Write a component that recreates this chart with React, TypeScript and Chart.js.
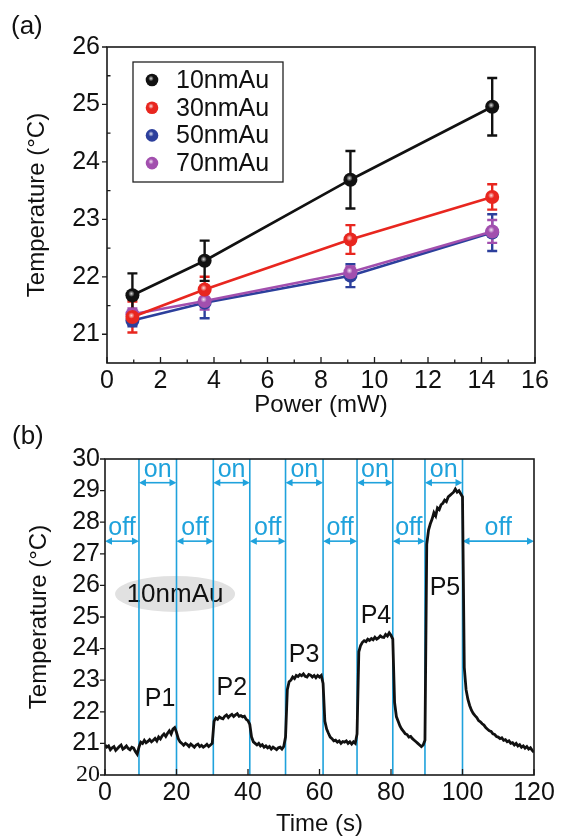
import React, { useEffect, useRef } from "react";
import { Chart, registerables } from "chart.js";

Chart.register(...registerables);

const FONT = "'Liberation Sans', Arial, Helvetica, sans-serif";
const SERIF = "'Liberation Serif', 'Times New Roman', serif";

// ---------------- Panel (a) data ----------------
const powerMW = [0.95, 3.65, 9.1, 14.4];
const seriesLabels = ["10nmAu", "30nmAu", "50nmAu", "70nmAu"];
const temp10 = [21.68, 22.28, 23.69, 24.96];
const temp30 = [21.3, 21.78, 22.65, 23.39];
const temp50 = [21.24, 21.55, 22.02, 22.77];
const temp70 = [21.35, 21.58, 22.08, 22.79];
const err10 = [0.38, 0.35, 0.5, 0.5];
const err30 = [0.27, 0.22, 0.25, 0.22];
const err50 = [0.1, 0.27, 0.2, 0.32];
const err70 = [0.1, 0.15, 0.1, 0.2];
const seriesColors = ["#111111", "#e8261f", "#2c3f9c", "#a24fae"];
const xTicksA = [0, 2, 4, 6, 8, 10, 12, 14, 16];
const xMinorA = [1, 3, 5, 7, 9, 11, 13, 15];
const yTicksA = [21, 22, 23, 24, 25, 26];
const yMinorA = [21.5, 22.5, 23.5, 24.5, 25.5];

// ---------------- Panel (b) data ----------------
const SAMPLE_STEP_S = 0.5;
const traceTemp = [
  20.95, 20.88, 20.92, 20.8, 20.86, 20.9, 20.78, 20.84, 20.9, 20.95,
  20.82, 20.86, 20.92, 20.84, 20.8, 20.88, 20.85, 20.74, 20.66, 20.88,
  21.04, 21.0, 21.1, 21.02, 21.06, 21.12, 21.05, 21.1, 21.16, 21.08,
  21.2, 21.14, 21.24, 21.3, 21.22, 21.32, 21.4, 21.3, 21.45, 21.5,
  21.35, 21.15, 21.05, 21.0, 20.94, 21.0, 20.96, 20.9, 20.98, 20.93,
  20.88, 20.95, 20.98, 20.9, 20.94, 20.88, 20.92, 20.97, 20.9, 20.95,
  21.0, 21.7, 21.8, 21.76, 21.84, 21.8, 21.78, 21.86, 21.9, 21.82,
  21.88, 21.92, 21.85, 21.9, 21.94, 21.86, 21.88, 21.84, 21.86, 21.76,
  21.72, 21.6, 21.2, 21.05, 21.0, 20.95, 21.0, 20.92, 20.96, 20.88,
  20.92, 20.86, 20.9, 20.82, 20.88, 20.84, 20.8, 20.86, 20.88, 20.82,
  20.9, 21.2, 22.7, 22.95, 23.0, 23.1, 23.05, 23.15, 23.12, 23.18,
  23.14, 23.2, 23.12, 23.1, 23.18, 23.16, 23.1, 23.15, 23.08, 23.15,
  23.1, 23.15, 22.9, 21.7, 21.45, 21.32, 21.2, 21.15, 21.08, 21.1,
  21.04, 21.08, 21.0, 21.06, 21.04, 21.08, 21.0, 21.05, 20.98, 21.05,
  21.0, 21.3, 23.9, 24.1, 24.2, 24.25, 24.22, 24.3, 24.26, 24.32,
  24.28, 24.36, 24.3, 24.34, 24.4, 24.36, 24.35, 24.45, 24.4, 24.5,
  24.42, 24.3, 22.3, 21.85, 21.7, 21.55, 21.45, 21.38, 21.3, 21.28,
  21.2, 21.22, 21.15, 21.1, 21.05, 21.0, 20.95, 20.9, 20.95, 21.1,
  27.3, 27.75, 27.95, 28.1, 28.3, 28.2, 28.45, 28.4, 28.55, 28.6,
  28.7, 28.65, 28.8, 28.85, 28.9, 28.95, 29.05, 28.95, 29.0, 28.9,
  28.8, 23.4, 22.7, 22.4, 22.2, 22.05, 21.95, 21.88, 21.82, 21.72,
  21.68, 21.62, 21.58, 21.5, 21.45, 21.4, 21.38, 21.3, 21.28, 21.22,
  21.2, 21.15, 21.18, 21.1, 21.12, 21.05, 21.08, 21.0, 21.02, 20.95,
  21.0, 20.92, 20.96, 20.88, 20.92, 20.85, 20.9, 20.82, 20.86, 20.78,
  20.72,
];
const switchTimes = [9.5, 20, 30.3, 40.5, 50.5, 61, 70.5, 80.5, 89.5, 100];
const onPeriods = [
  [9.5, 20],
  [30.3, 40.5],
  [50.5, 61],
  [70.5, 80.5],
  [89.5, 100],
];
const offPeriods = [
  [0, 9.5],
  [20, 30.3],
  [40.5, 50.5],
  [61, 70.5],
  [80.5, 89.5],
  [100, 120],
];
const ON_ARROW_TEMP = 29.25;
const OFF_ARROW_TEMP = 27.4;
const peakLabels = ["P1", "P2", "P3", "P4", "P5"];
const peakLabelTimes = [15.4, 35.5, 55.7, 75.8, 95.1];
const peakLabelTemps = [22.4, 22.75, 23.8, 25.03, 25.9];
const sampleLabel = "10nmAu";
const SAMPLE_LABEL_TIME = 19.6;
const SAMPLE_LABEL_TEMP = 25.73;
const xTicksB = [0, 20, 40, 60, 80, 100, 120];
const yTicksB = [20, 21, 22, 23, 24, 25, 26, 27, 28, 29, 30];

const BLUE = "#1fa2dc";

function frameTicksPlugin(opts: {
  xMajor: number[];
  xMinor: number[];
  yMajor: number[];
  yMinor: number[];
}) {
  return {
    id: "frameTicks",
    afterDraw(chart: any) {
      const { ctx, chartArea: a, scales } = chart;
      const x = scales.x;
      const y = scales.y;
      ctx.save();
      ctx.strokeStyle = "#1a1a1a";
      ctx.lineWidth = 1.6;
      ctx.strokeRect(a.left, a.top, a.right - a.left, a.bottom - a.top);
      ctx.lineWidth = 1.3;
      ctx.beginPath();
      opts.xMajor.forEach((v) => {
        const px = x.getPixelForValue(v);
        ctx.moveTo(px, a.bottom);
        ctx.lineTo(px, a.bottom - 6);
      });
      opts.xMinor.forEach((v) => {
        const px = x.getPixelForValue(v);
        ctx.moveTo(px, a.bottom);
        ctx.lineTo(px, a.bottom - 3.5);
      });
      opts.yMajor.forEach((v) => {
        const py = y.getPixelForValue(v);
        ctx.moveTo(a.left, py);
        ctx.lineTo(a.left - 5, py);
      });
      opts.yMinor.forEach((v) => {
        const py = y.getPixelForValue(v);
        ctx.moveTo(a.left, py);
        ctx.lineTo(a.left + 3.5, py);
      });
      ctx.stroke();
      ctx.restore();
    },
  };
}

function panelLabelPlugin(text: string, px: number, py: number) {
  return {
    id: "panelLabel",
    afterDraw(chart: any) {
      const { ctx } = chart;
      ctx.save();
      ctx.fillStyle = "#111";
      ctx.font = `26px ${FONT}`;
      ctx.textAlign = "left";
      ctx.textBaseline = "middle";
      ctx.fillText(text, px, py);
      ctx.restore();
    },
  };
}

function drawHighlight(ctx: any, x: number, y: number, r: number) {
  const g = ctx.createRadialGradient(x - 1, y - 1.5, 0, x - 1, y - 1.5, r);
  g.addColorStop(0, "rgba(255,255,255,0.85)");
  g.addColorStop(1, "rgba(255,255,255,0)");
  ctx.fillStyle = g;
  ctx.beginPath();
  ctx.arc(x - 1, y - 1.5, r, 0, Math.PI * 2);
  ctx.fill();
}

const errorsBySeries = [err10, err30, err50, err70];
const drawOrder = [2, 3, 1, 0]; // blue, purple, red, black

const errorBarsPlugin = {
  id: "errorBars",
  beforeDatasetsDraw(chart: any) {
    const { ctx, scales } = chart;
    const x = scales.x;
    const y = scales.y;
    ctx.save();
    ctx.lineWidth = 2.4;
    drawOrder.forEach((di) => {
      const ds = chart.data.datasets[di];
      const errs = errorsBySeries[di];
      ctx.strokeStyle = seriesColors[di];
      ds.data.forEach((pt: any, i: number) => {
        const px = x.getPixelForValue(pt.x);
        const top = y.getPixelForValue(pt.y + errs[i]);
        const bot = y.getPixelForValue(pt.y - errs[i]);
        ctx.beginPath();
        ctx.moveTo(px, top);
        ctx.lineTo(px, bot);
        ctx.moveTo(px - 5, top);
        ctx.lineTo(px + 5, top);
        ctx.moveTo(px - 5, bot);
        ctx.lineTo(px + 5, bot);
        ctx.stroke();
      });
    });
    ctx.restore();
  },
  afterDatasetDraw(chart: any, args: any) {
    const { ctx } = chart;
    ctx.save();
    args.meta.data.forEach((el: any) => drawHighlight(ctx, el.x, el.y, 3.2));
    ctx.restore();
  },
};

const legendBoxPlugin = {
  id: "legendBox",
  afterDraw(chart: any) {
    const { ctx, chartArea: a } = chart;
    const left = a.left + 26;
    const top = a.top + 15;
    ctx.save();
    ctx.strokeStyle = "#222";
    ctx.lineWidth = 1.3;
    ctx.fillStyle = "#fff";
    ctx.fillRect(left, top, 150, 120);
    ctx.strokeRect(left, top, 150, 120);
    seriesLabels.forEach((label, i) => {
      const cy = top + 18 + i * 27.7;
      ctx.fillStyle = seriesColors[i];
      ctx.beginPath();
      ctx.arc(left + 19, cy, 6.3, 0, Math.PI * 2);
      ctx.fill();
      drawHighlight(ctx, left + 19, cy, 2.8);
      ctx.fillStyle = "#111";
      ctx.font = `25px ${FONT}`;
      ctx.textAlign = "left";
      ctx.textBaseline = "middle";
      ctx.fillText(label, left + 43, cy + 1);
    });
    ctx.restore();
  },
};

function drawDoubleArrow(ctx: any, x1: number, x2: number, y: number) {
  const h = 7;
  const w = 3.6;
  ctx.beginPath();
  ctx.moveTo(x1 + h - 1, y);
  ctx.lineTo(x2 - h + 1, y);
  ctx.stroke();
  ctx.beginPath();
  ctx.moveTo(x1, y);
  ctx.lineTo(x1 + h, y - w);
  ctx.lineTo(x1 + h, y + w);
  ctx.closePath();
  ctx.fill();
  ctx.beginPath();
  ctx.moveTo(x2, y);
  ctx.lineTo(x2 - h, y - w);
  ctx.lineTo(x2 - h, y + w);
  ctx.closePath();
  ctx.fill();
}

const switchingPlugin = {
  id: "switching",
  beforeDatasetsDraw(chart: any) {
    const { ctx, chartArea: a, scales } = chart;
    const x = scales.x;
    const y = scales.y;
    ctx.save();
    const ex = x.getPixelForValue(SAMPLE_LABEL_TIME);
    const ey = y.getPixelForValue(SAMPLE_LABEL_TEMP);
    ctx.fillStyle = "#e1e1e1";
    ctx.beginPath();
    ctx.ellipse(ex, ey, 60, 18, 0, 0, Math.PI * 2);
    ctx.fill();
    ctx.fillStyle = "#111";
    ctx.font = `26px ${FONT}`;
    ctx.textAlign = "center";
    ctx.textBaseline = "middle";
    ctx.fillText(sampleLabel, ex, ey + 1);

    ctx.strokeStyle = BLUE;
    ctx.lineWidth = 1.6;
    ctx.beginPath();
    switchTimes.forEach((t) => {
      const px = x.getPixelForValue(t);
      ctx.moveTo(px, a.top);
      ctx.lineTo(px, a.bottom);
    });
    ctx.stroke();

    ctx.fillStyle = BLUE;
    ctx.lineWidth = 1.6;
    ctx.font = `25px ${FONT}`;
    ctx.textAlign = "center";
    ctx.textBaseline = "alphabetic";
    const onY = y.getPixelForValue(ON_ARROW_TEMP);
    onPeriods.forEach(([s, e]) => {
      const x1 = x.getPixelForValue(s);
      const x2 = x.getPixelForValue(e);
      drawDoubleArrow(ctx, x1, x2, onY);
      ctx.fillText("on", (x1 + x2) / 2, onY - 6);
    });
    const offY = y.getPixelForValue(OFF_ARROW_TEMP);
    offPeriods.forEach(([s, e]) => {
      const x1 = x.getPixelForValue(s);
      const x2 = x.getPixelForValue(e);
      drawDoubleArrow(ctx, x1, x2, offY);
      ctx.fillText("off", (x1 + x2) / 2, offY - 6);
    });

    ctx.fillStyle = "#111";
    ctx.font = `25px ${FONT}`;
    ctx.textBaseline = "middle";
    peakLabels.forEach((lbl, i) => {
      ctx.fillText(
        lbl,
        x.getPixelForValue(peakLabelTimes[i]),
        y.getPixelForValue(peakLabelTemps[i])
      );
    });
    ctx.restore();
  },
};

export default function App() {
  const refA = useRef<HTMLCanvasElement | null>(null);
  const refB = useRef<HTMLCanvasElement | null>(null);

  useEffect(() => {
    if (!refA.current || !refB.current) return;
    const tickFont = { family: FONT, size: 25 };
    const titleFont = { family: FONT, size: 24 };

    const seriesTemps = [temp10, temp30, temp50, temp70];
    const orders = [0, 1, 3, 2];
    const chartA = new Chart(refA.current, {
      type: "line",
      data: {
        datasets: seriesTemps.map((temps, si) => ({
          label: seriesLabels[si],
          data: powerMW.map((p, i) => ({ x: p, y: temps[i] })),
          borderColor: seriesColors[si],
          backgroundColor: seriesColors[si],
          pointBackgroundColor: seriesColors[si],
          pointBorderColor: seriesColors[si],
          pointBorderWidth: 0,
          pointRadius: 7,
          borderWidth: 2.6,
          tension: 0,
          order: orders[si],
        })),
      },
      options: {
        animation: false,
        responsive: false,
        maintainAspectRatio: false,
        events: [],
        layout: { padding: { left: 0, right: 29, top: 47, bottom: 0 } },
        plugins: {
          legend: { display: false },
          tooltip: { enabled: false },
        },
        scales: {
          x: {
            type: "linear",
            min: 0,
            max: 16,
            grid: { display: false, drawTicks: false, tickLength: 0 },
            border: { display: false },
            ticks: { font: tickFont, color: "#111", padding: 3, maxRotation: 0, autoSkip: false },
            afterBuildTicks: (s: any) => {
              s.ticks = xTicksA.map((v) => ({ value: v }));
            },
            afterFit: (s: any) => {
              s.height = 57;
            },
            title: {
              display: true,
              text: "Power (mW)",
              font: titleFont,
              color: "#111",
              padding: { top: 0, bottom: 0 },
            },
          },
          y: {
            type: "linear",
            min: 20.5,
            max: 26,
            grid: { display: false, drawTicks: false, tickLength: 0 },
            border: { display: false },
            ticks: { font: tickFont, color: "#111", padding: 7, autoSkip: false },
            afterBuildTicks: (s: any) => {
              s.ticks = yTicksA.map((v) => ({ value: v }));
            },
            afterFit: (s: any) => {
              s.width = 107;
            },
            title: {
              display: true,
              text: "Temperature (°C)",
              font: titleFont,
              color: "#111",
              padding: { top: 23, bottom: 0 },
            },
          },
        },
      },
      plugins: [
        errorBarsPlugin,
        frameTicksPlugin({ xMajor: xTicksA, xMinor: xMinorA, yMajor: yTicksA, yMinor: yMinorA }),
        legendBoxPlugin,
        panelLabelPlugin("(a)", 11, 27),
      ],
    } as any);

    const chartB = new Chart(refB.current, {
      type: "line",
      data: {
        datasets: [
          {
            label: sampleLabel,
            data: traceTemp.map((v, i) => ({ x: i * SAMPLE_STEP_S, y: v })),
            borderColor: "#111",
            borderWidth: 2.8,
            pointRadius: 0,
            tension: 0,
          },
        ],
      },
      options: {
        animation: false,
        responsive: false,
        maintainAspectRatio: false,
        events: [],
        layout: { padding: { left: 0, right: 30, top: 39, bottom: 0 } },
        plugins: {
          legend: { display: false },
          tooltip: { enabled: false },
        },
        scales: {
          x: {
            type: "linear",
            min: 0,
            max: 120,
            grid: { display: false, drawTicks: false, tickLength: 0 },
            border: { display: false },
            ticks: { font: tickFont, color: "#111", padding: 3, maxRotation: 0, autoSkip: false },
            afterBuildTicks: (s: any) => {
              s.ticks = xTicksB.map((v) => ({ value: v }));
            },
            afterFit: (s: any) => {
              s.height = 65;
            },
            title: {
              display: true,
              text: "Time (s)",
              font: titleFont,
              color: "#111",
              padding: { top: 0, bottom: 1 },
            },
          },
          y: {
            type: "linear",
            min: 20,
            max: 30,
            grid: { display: false, drawTicks: false, tickLength: 0 },
            border: { display: false },
            ticks: {
              font: (c: any) =>
                c.tick && c.tick.value === 20
                  ? { family: SERIF, size: 24 }
                  : { family: FONT, size: 25 },
              color: "#111",
              padding: 5,
              autoSkip: false,
            },
            afterBuildTicks: (s: any) => {
              s.ticks = yTicksB.map((v) => ({ value: v }));
            },
            afterFit: (s: any) => {
              s.width = 105;
            },
            title: {
              display: true,
              text: "Temperature (°C)",
              font: titleFont,
              color: "#111",
              padding: { top: 25, bottom: 0 },
            },
          },
        },
      },
      plugins: [
        switchingPlugin,
        frameTicksPlugin({ xMajor: xTicksB, xMinor: [], yMajor: yTicksB, yMinor: [] }),
        panelLabelPlugin("(b)", 12, 17),
      ],
    } as any);

    return () => {
      chartA.destroy();
      chartB.destroy();
    };
  }, []);

  return (
    <div
      style={{
        position: "absolute",
        left: 0,
        top: 0,
        width: 564,
        height: 840,
        background: "#fff",
      }}
    >
      <canvas ref={refA} width={564} height={420} style={{ display: "block", width: 564, height: 420 }} />
      <canvas ref={refB} width={564} height={420} style={{ display: "block", width: 564, height: 420 }} />
    </div>
  );
}
